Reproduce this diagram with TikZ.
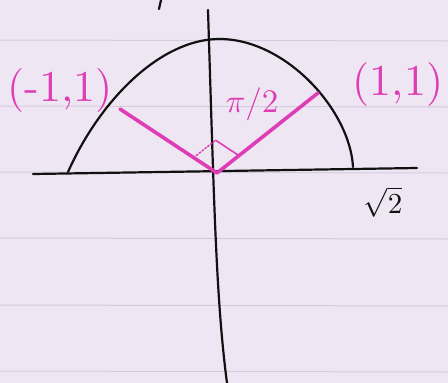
\documentclass[tikz,border=0pt]{standalone}
\usetikzlibrary{calc}
\definecolor{paper}{HTML}{EEE7F3}
\definecolor{rule}{HTML}{D5CCDD}
\definecolor{pink}{HTML}{DE3DB5}
\definecolor{ink}{HTML}{111111}
\begin{document}
\begin{tikzpicture}[x=1pt,y=-1pt,
  axis/.style={ink,line width=2.2pt,line cap=round},
  curvestyle/.style={ink,line width=2.2pt,line cap=round},
  pinkline/.style={pink,line width=3.6pt,line cap=round,line join=round},
  marker/.style={pink,line width=1.6pt,line cap=round},
  pinklabel/.style={pink,font=\normalsize,inner sep=0pt,scale=4.4},
  anglabel/.style={pink,font=\normalsize,inner sep=0pt,scale=3.3},
  blacklabel/.style={ink,font=\normalsize,inner sep=0pt,scale=2.9}]
\useasboundingbox (0,0) rectangle (448,383);
\fill[paper] (0,0) rectangle (448,383);
% ruled lines
\foreach \yy in {40,106,172,238,305,371}
  \draw[rule,line width=1pt] (0,\yy) -- (448,\yy+1);
% tip of a label cut at the top
\draw[axis] (161,0) -- (159,9);
% axes
\draw[axis] (208,10) .. controls (214,200) and (216,300) .. (227,383);
\coordinate (xl) at (33,174);
\coordinate (xr) at (417,168);
\draw[axis] (xl) -- (xr);
% curve
\draw[curvestyle] (68,172) .. controls (100,100) and (160,40) .. (218,39)
  .. controls (285,38) and (350,110) .. (353,167);
% magenta vectors
\coordinate (O) at (217,173);
\coordinate (L) at (120,109);
\coordinate (R) at (318,93);
\draw[pinkline] (L) -- (O) -- (R);
% right angle marker
\coordinate (A) at ($(O)!28pt!(L)$);
\coordinate (B) at ($(O)!28pt!(R)$);
\coordinate (C) at ($(A)+(B)-(O)$);
\draw[marker,dotted] (A) -- (C);
\draw[marker] (C) -- (B);
% labels
\node[pinklabel] (lm) at (60,90) {(-1,1)};
\node[pinklabel] (lp) at (398,84) {(1,1)};
\node[anglabel] (ang) at (252,104) {$\pi/2$};
\node[blacklabel] (r2) at (383,202) {$\sqrt{2}$};
\end{tikzpicture}
\end{document}
